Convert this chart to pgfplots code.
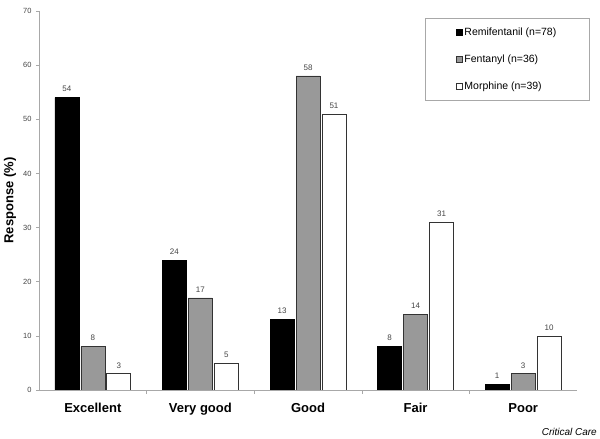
\documentclass[border=0pt]{standalone}
\usepackage{fontspec}
\setmainfont{Liberation Sans}
\usepackage{pgfplots}
\pgfplotsset{compat=1.18}
\definecolor{fent}{HTML}{999999}
\definecolor{edge}{HTML}{333333}
\definecolor{axisgray}{HTML}{A8A8A8}
\definecolor{txtgray}{HTML}{444444}
\begin{document}
\begin{tikzpicture}
\useasboundingbox (0,0) rectangle (600bp,439bp);
\begin{axis}[
  at={(39bp,49bp)}, anchor=south west,
  scale only axis, width=538bp, height=379bp,
  ymin=0, ymax=70, xmin=-0.5, xmax=4.5,
  ybar, bar width=24bp,
  axis x line=bottom, axis y line=left,
  axis line style={axisgray, line width=0.8bp, -},
  ytick={0,10,...,70},
  /pgf/number format/assume math mode=true,
  yticklabel style={font=\fontsize{7.5bp}{9bp}\selectfont, text=txtgray, xshift=-1bp},
  ytick style={axisgray, line width=0.6bp},
  tick align=outside, major tick length=3bp,
  xtick={0,1,2,3,4},
  xticklabels={Excellent, Very good, Good, Fair, Poor},
  xticklabel style={font=\fontsize{13bp}{15bp}\selectfont\bfseries, yshift=-7bp},
  x tick style={draw=none},
  extra x ticks={0.5,1.5,2.5,3.5},
  extra x tick labels={},
  extra x tick style={x tick style={draw=axisgray, line width=0.6bp}, major tick length=4bp},
  ylabel={Response (\%)},
  every axis y label/.style={at={(axis description cs:0,0.5)}, xshift=-29bp, rotate=90, anchor=center, font=\fontsize{13bp}{15bp}\selectfont\bfseries},
  nodes near coords,
  every node near coord/.append style={font=\fontsize{8bp}{10bp}\selectfont, text=txtgray, yshift=2bp},
  legend image code/.code={\draw[#1] (0bp,-3bp) rectangle (6bp,3bp);},
  legend cell align=left,
  legend style={at={(axis description cs:0.7175,0.9815)}, anchor=north west,
    draw=axisgray, line width=0.6bp, inner xsep=31bp, inner ysep=8bp,
    row sep=15bp, font=\fontsize{10.5bp}{12bp}\selectfont,
    nodes={inner sep=1.5bp}},
]
\addplot[fill=black, draw=black, line width=0.6bp] coordinates {(0,54) (1,24) (2,13) (3,8) (4,1)};
\addplot[fill=fent, draw=edge, line width=0.6bp] coordinates {(0,8) (1,17) (2,58) (3,14) (4,3)};
\addplot[fill=white, draw=edge, line width=0.6bp] coordinates {(0,3) (1,5) (2,51) (3,31) (4,10)};
\legend{Remifentanil (n=78), Fentanyl (n=36), Morphine (n=39)}
\end{axis}
\node[anchor=base east, font=\fontsize{10bp}{12bp}\selectfont\itshape, inner sep=0pt] at (597bp,4bp) {Critical Care};
\end{tikzpicture}
\end{document}
